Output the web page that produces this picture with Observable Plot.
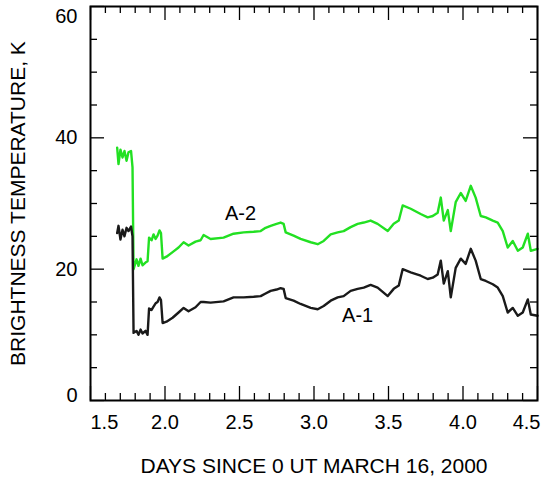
<!DOCTYPE html>
<html>
<head>
<meta charset="utf-8">
<script src="https://cdn.jsdelivr.net/npm/d3@7"></script>
<script src="https://cdn.jsdelivr.net/npm/@observablehq/plot@0.6"></script>
<style>
  html, body { margin: 0; padding: 0; background: #fff; }
  #chart { width: 542px; height: 480px; }
</style>
</head>
<body>
<div id="chart"></div>
<script>
// Brightness temperature of sources A-1 and A-2, days since 0 UT March 16, 2000
const days = [
  1.679,1.688,1.701,1.715,1.728,1.742,1.755,1.772,1.782,1.789,
  1.809,1.822,1.836,1.849,1.869,1.883,1.893,1.910,1.923,1.937,
  1.950,1.963,1.973,1.984,2.010,2.051,2.091,2.125,2.158,2.205,
  2.239,2.259,2.306,2.393,2.460,2.528,2.595,2.642,2.675,2.709,
  2.749,2.776,2.796,2.810,2.863,2.910,2.978,3.025,3.065,3.112,
  3.159,3.199,3.246,3.293,3.334,3.380,3.427,3.495,3.535,3.569,
  3.595,3.649,3.716,3.763,3.797,3.830,3.851,3.871,3.898,3.918,
  3.951,3.985,4.018,4.052,4.085,4.119,4.153,4.200,4.233,4.267,
  4.300,4.334,4.368,4.401,4.435,4.455,4.500
];
const a2 = [
  38.5,36.0,38.2,37.0,38.0,36.5,37.8,38.0,35.5,20.0,
  21.5,20.5,21.6,20.6,21.0,21.2,24.8,24.4,25.3,24.6,
  25.1,25.9,25.5,21.6,21.9,22.6,23.3,24.1,23.6,24.2,
  24.4,25.2,24.6,24.8,25.4,25.6,25.7,25.8,26.3,26.6,
  26.9,27.1,26.9,25.6,25.1,24.6,24.1,23.8,24.3,25.3,
  25.6,25.8,26.4,26.9,27.1,27.4,26.9,25.8,26.9,27.4,
  29.7,29.2,28.4,27.9,28.1,28.6,30.9,27.4,29.0,25.8,
  30.2,31.6,30.4,32.7,30.9,28.1,27.9,27.4,27.1,25.8,
  23.3,24.3,22.8,23.3,25.4,22.8,23.1
];
const a1 = [
  25.5,26.6,24.5,26.0,25.0,26.3,25.8,26.5,25.0,10.3,
  10.6,10.0,10.8,10.2,10.6,10.0,14.0,13.8,14.3,14.8,
  15.0,15.7,15.3,11.8,12.0,12.6,13.4,14.1,13.6,14.2,
  15.0,15.0,14.9,15.1,15.7,15.7,15.8,15.9,16.3,16.7,
  16.9,17.1,17.0,15.6,15.2,14.7,14.1,13.9,14.4,15.2,
  15.7,15.9,16.7,17.0,17.2,17.6,17.2,15.9,17.0,17.5,
  20.0,19.5,19.0,18.5,18.7,19.2,21.3,17.8,19.7,15.7,
  20.2,21.6,20.8,23.1,21.3,18.5,18.2,17.7,17.2,15.9,
  13.4,14.1,12.9,13.4,15.4,13.1,12.9
];

// Axis ticks and labels
const xMajor = [1.5, 2.0, 2.5, 3.0, 3.5, 4.0, 4.5];
const xTickLabels = ["1.5", "2.0", "2.5", "3.0", "3.5", "4.0", "4.5"];
const yMajor = [0, 20, 40, 60];
const yTickLabels = ["0", "20", "40", "60"];

// Curve labels
const seriesNames = ["A-2", "A-1"];
const seriesLabelDays = [2.507, 3.293];
const seriesLabelTemps = [28.4, 12.9];

const xTitle = "DAYS SINCE 0 UT MARCH 16, 2000";
const yTitle = "BRIGHTNESS TEMPERATURE, K";

const rows = days.map((d, i) => ({day: d, a1: a1[i], a2: a2[i]}));
const xMinor = d3.range(16, 45).map(v => v / 10).filter(v => !xMajor.includes(v));
const yMinor = d3.range(5, 60, 5).filter(v => !yMajor.includes(v));
const xLab = xMajor.map((v, i) => ({v, label: xTickLabels[i]}));
const yLab = yMajor.map((v, i) => ({v, label: yTickLabels[i]}));
const curveLabels = seriesNames.map((n, i) => ({name: n, day: seriesLabelDays[i], t: seriesLabelTemps[i]}));

const width = 542, height = 480;
const margin = {top: 6, right: 5, bottom: 80, left: 90};
const innerW = width - margin.left - margin.right;
const innerH = height - margin.top - margin.bottom;
const minorLen = 7, majorLen = 14;
const tickStyle = {stroke: "#000", strokeWidth: 1.3};
const titleSize = 21;

const chart = Plot.plot({
  width, height,
  marginTop: margin.top, marginRight: margin.right,
  marginBottom: margin.bottom, marginLeft: margin.left,
  style: {fontFamily: "'Liberation Sans', Arial, sans-serif", fontSize: "20px", background: "#fff", color: "#000"},
  x: {domain: [1.5, 4.5], axis: null},
  y: {domain: [0, 60], axis: null},
  marks: [
    // data curves
    Plot.line(rows, {x: "day", y: "a2", stroke: "#22e022", strokeWidth: 2.4}),
    Plot.line(rows, {x: "day", y: "a1", stroke: "#1a1a1a", strokeWidth: 2.4}),

    // inward ticks: bottom, top, left, right
    Plot.ruleX(xMinor, {...tickStyle, insetTop: innerH - minorLen}),
    Plot.ruleX(xMajor, {...tickStyle, insetTop: innerH - majorLen}),
    Plot.ruleX(xMinor, {...tickStyle, insetBottom: innerH - minorLen}),
    Plot.ruleX(xMajor, {...tickStyle, insetBottom: innerH - majorLen}),
    Plot.ruleY(yMinor, {...tickStyle, insetRight: innerW - minorLen}),
    Plot.ruleY(yMajor, {...tickStyle, insetRight: innerW - majorLen}),
    Plot.ruleY(yMinor, {...tickStyle, insetLeft: innerW - minorLen}),
    Plot.ruleY(yMajor, {...tickStyle, insetLeft: innerW - majorLen}),

    Plot.frame({stroke: "#000", strokeWidth: 2}),

    // x tick labels (end labels kept inside the frame width)
    Plot.text(xLab.slice(1, -1), {x: "v", text: "label", frameAnchor: "bottom", lineAnchor: "middle", dy: 22, textAnchor: "middle", fill: "#000"}),
    Plot.text(xLab.slice(0, 1), {x: "v", text: "label", frameAnchor: "bottom", lineAnchor: "middle", dy: 22, textAnchor: "start", fill: "#000"}),
    Plot.text(xLab.slice(-1), {x: "v", text: "label", frameAnchor: "bottom", lineAnchor: "middle", dy: 22, textAnchor: "end", dx: 3, fill: "#000"}),

    // y tick labels
    Plot.text(yLab.slice(1, -1), {y: "v", text: "label", frameAnchor: "left", dx: -13, textAnchor: "end", fill: "#000"}),
    Plot.text(yLab.slice(0, 1), {y: "v", text: "label", frameAnchor: "left", dx: -13, dy: -5, textAnchor: "end", fill: "#000"}),
    Plot.text(yLab.slice(-1), {y: "v", text: "label", frameAnchor: "left", dx: -13, dy: 10, textAnchor: "end", fill: "#000"}),

    // axis titles
    Plot.text([xTitle], {frameAnchor: "bottom", lineAnchor: "middle", textAnchor: "middle", dy: 66, fontSize: titleSize, fill: "#000"}),
    Plot.text([yTitle], {frameAnchor: "left", lineAnchor: "middle", textAnchor: "middle", dx: -72, rotate: -90, fontSize: titleSize, fill: "#000"}),

    // curve names
    Plot.text(curveLabels, {x: "day", y: "t", text: "name", fill: "#000"})
  ]
});

// the sampled curves are slightly soft
d3.select(chart).selectAll('g[aria-label="line"]').style("filter", "blur(0.6px)");

document.getElementById("chart").appendChild(chart);
</script>
</body>
</html>
